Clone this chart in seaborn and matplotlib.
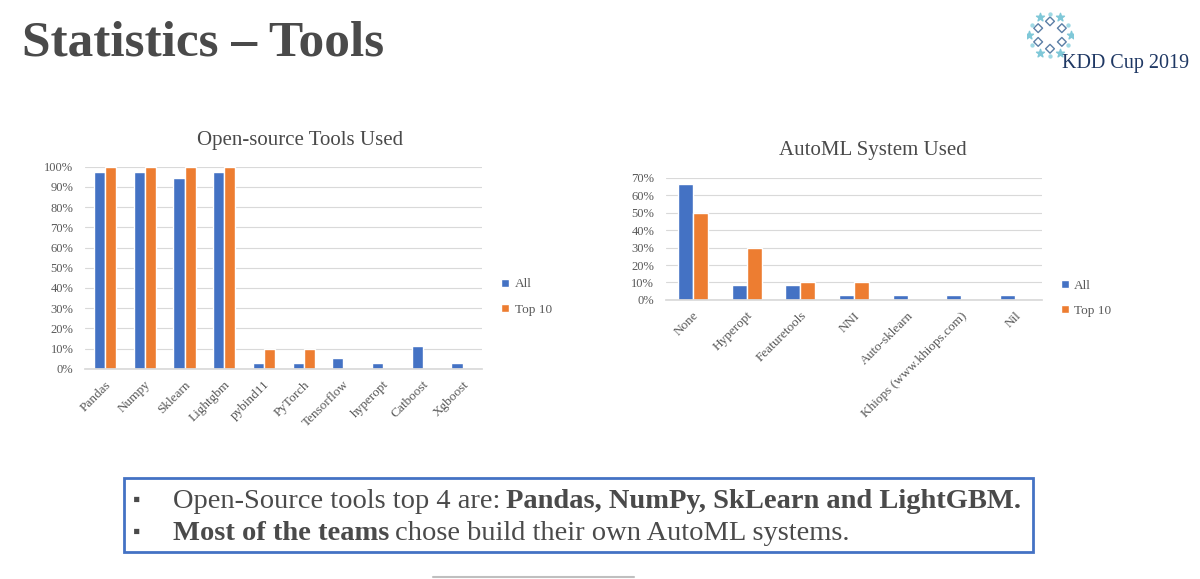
import numpy as np
import pandas as pd
import matplotlib.pyplot as plt
import seaborn as sns

# ── data (share of teams) ──
tools = ['Pandas', 'Numpy', 'Sklearn', 'Lightgbm', 'pybind11', 'PyTorch',
         'Tensorflow', 'hyperopt', 'Catboost', 'Xgboost']
tools_all = [0.972, 0.972, 0.944, 0.972, 0.028, 0.028, 0.056, 0.028, 0.111, 0.028]
tools_top10 = [1.0, 1.0, 1.0, 1.0, 0.10, 0.10, 0.0, 0.0, 0.0, 0.0]

automl = ['None', 'Hyperopt', 'Featuretools', 'NNI', 'Auto-sklearn',
          'Khiops (www.khiops.com)', 'Nil']
automl_all = [0.667, 0.083, 0.083, 0.028, 0.028, 0.028, 0.028]
automl_top10 = [0.50, 0.30, 0.10, 0.10, 0.0, 0.0, 0.0]

series = ['All', 'Top 10']
colors = ['#4472C4', '#ED7D31']


def long_df(cats, a, t):
    return pd.DataFrame({
        'cat': cats * 2,
        'group': ['All'] * len(cats) + ['Top 10'] * len(cats),
        'val': a + t,
    })


df_tools = long_df(tools, tools_all, tools_top10)
df_automl = long_df(automl, automl_all, automl_top10)

sns.set_theme(style='white')
plt.rcParams['font.family'] = ['Liberation Serif', 'DejaVu Serif']

fig = plt.figure(figsize=(12, 5.79), dpi=100)
fig.patch.set_facecolor('white')

grey = '#595959'
dark = '#4a4a4a'


def draw(ax, df, ymax, step, legend_xy):
    sns.barplot(data=df, x='cat', y='val', hue='group', palette=colors,
                hue_order=series, width=0.56, saturation=1, ax=ax, legend=True)
    ax.set_ylim(0, ymax)
    ticks = np.arange(0, ymax + 1e-9, step)
    ax.set_yticks(ticks)
    ax.set_yticklabels([f'{int(round(t * 100))}%' for t in ticks],
                       fontsize=9, color=grey)
    ax.yaxis.grid(True, color='#D9D9D9', linewidth=0.8)
    ax.set_axisbelow(True)
    for s in ['top', 'right', 'left']:
        ax.spines[s].set_visible(False)
    ax.spines['bottom'].set_color('#D9D9D9')
    ax.tick_params(axis='y', length=0, pad=8.5)
    ax.tick_params(axis='x', length=0, pad=7)
    ax.set_xlabel('')
    ax.set_ylabel('')
    plt.setp(ax.get_xticklabels(), rotation=45, ha='right',
             rotation_mode='anchor', fontsize=9.5, color=grey)
    h, l = ax.get_legend_handles_labels()
    ax.legend(h, l, loc='center left', bbox_to_anchor=legend_xy,
              bbox_transform=fig.transFigure, frameon=False,
              handlelength=0.6, handleheight=0.6, handletextpad=0.4,
              labelspacing=1.0, fontsize=9.5, labelcolor=grey)


ax1 = fig.add_axes([0.071, 0.363, 0.331, 0.349])
draw(ax1, df_tools, 1.0, 0.1, (0.408, 0.487))
fig.text(0.250, 0.758, 'Open-source Tools Used', fontsize=15, color=dark,
         ha='center', va='center')

ax2 = fig.add_axes([0.555, 0.482, 0.3133, 0.2107])
draw(ax2, df_automl, 0.7, 0.1, (0.874, 0.485))
fig.text(0.727, 0.740, 'AutoML System Used', fontsize=15, color=dark,
         ha='center', va='center')

# slide title
fig.text(0.018, 0.905, 'Statistics \u2013 Tools', fontsize=37, fontweight='bold',
         color=dark, va='baseline', ha='left')

# logo: snowflake-ish diamonds + text
logo = fig.add_axes([0.856, 0.900, 0.038, 0.079])
logo.set_xlim(-1, 1)
logo.set_ylim(-1, 1)
logo.axis('off')
ang = np.linspace(0, 2 * np.pi, 7)[:-1] + np.pi / 2
logo.scatter(0.6 * np.cos(ang), 0.6 * np.sin(ang), marker='D', s=20,
             facecolor='none', edgecolor='#5B7FA6', linewidth=1.0)
logo.scatter(0.9 * np.cos(ang + np.pi / 6), 0.9 * np.sin(ang + np.pi / 6),
             marker='*', s=36, color='#7FC8D8')
logo.scatter(0.9 * np.cos(ang), 0.9 * np.sin(ang), marker='.', s=18,
             color='#9ED8E4')
fig.text(0.885, 0.890, 'KDD Cup 2019', fontsize=14.5, color='#1F3864',
         va='center', ha='left')

# summary box
box = plt.Rectangle((0.103, 0.047), 0.758, 0.127, transform=fig.transFigure,
                    facecolor='white', edgecolor='#4472C4', linewidth=2)
fig.add_artist(box)

renderer = fig.canvas.get_renderer()


def line(y, parts):
    fig.text(0.111, y + 0.004, '\u25aa', fontsize=15, color=dark, va='baseline')
    x = 0.144
    for txt, weight in parts:
        t = fig.text(x, y, txt, fontsize=20.5, color=dark, va='baseline',
                     fontweight=weight)
        bb = t.get_window_extent(renderer)
        x = bb.x1 / fig.bbox.width + 0.005


line(1 - 508 / 579, [('Open-Source tools top 4 are:', 'normal'),
                     ('Pandas, NumPy, SkLearn and LightGBM.', 'bold')])
line(1 - 540 / 579, [('Most of the teams', 'bold'),
                     ('chose build their own AutoML systems.', 'normal')])

# partial shape at the bottom edge
fig.add_artist(plt.Line2D([0.361, 0.528], [0.003, 0.003],
                          transform=fig.transFigure, color='#BFBFBF', lw=1.5))

plt.savefig('out.png', dpi=100, facecolor='white')
